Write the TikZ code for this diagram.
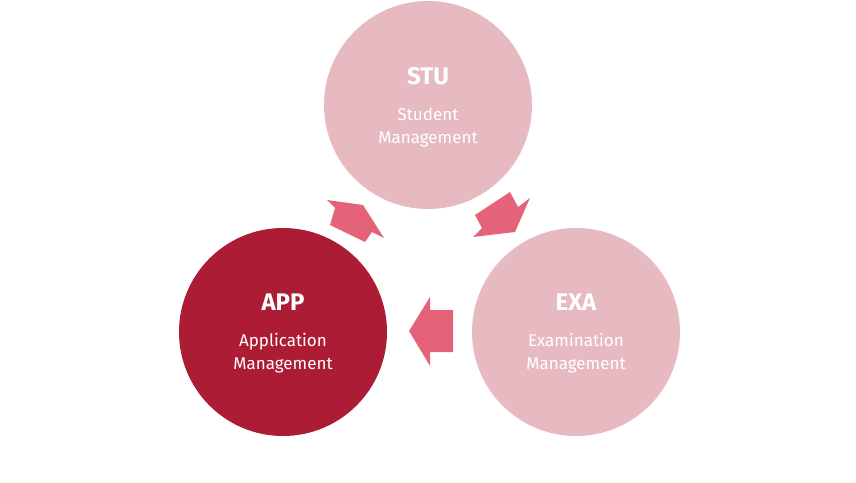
\documentclass[tikz,border=0pt]{standalone}
\usepackage{fontspec}
\setmainfont{Fira Sans}
\definecolor{dark}{HTML}{AC1C35}
\definecolor{light}{HTML}{E7BAC2}
\definecolor{arr}{HTML}{E4637A}
\begin{document}
\begin{tikzpicture}[x=1pt,y=-1pt,
  circ/.style={circle,minimum size=208pt,inner sep=0pt},
  ttl/.style={text=white,font=\fontsize{24}{28}\selectfont\bfseries},
  sub/.style={text=white,align=center,font=\fontsize{17}{23}\selectfont\light}]
\providecommand\light{\fontseries{l}\selectfont}
\useasboundingbox (0,0) rectangle (856,482);
\node[circ,fill=light] (stu) at (428,105) {};
\node[circ,fill=dark] (app) at (283,332) {};
\node[circ,fill=light] (exa) at (576,332) {};
\node[ttl] (stut) at (428,76) {STU};
\node[sub] (stus) at (428,127) {Student\\Management};
\node[ttl] (appt) at (283,302) {APP};
\node[sub] (apps) at (283,353) {Application\\Management};
\node[ttl] (exat) at (576,302) {EXA};
\node[sub] (exas) at (576,353) {Examination\\Management};
\fill[arr] (327,200) -- (363,205) -- (384,238) -- (372,232) -- (365,242) -- (330,225) -- (335,208) -- cycle;
\fill[arr] (475,215) -- (510,192) -- (518,207) -- (530,198) -- (515,232) -- (473,237) -- (482,228) -- cycle;
\fill[arr] (453,310) -- (430,310) -- (430,297) -- (409,331) -- (430,366) -- (430,352) -- (453,352) -- cycle;
\end{tikzpicture}
\end{document}
